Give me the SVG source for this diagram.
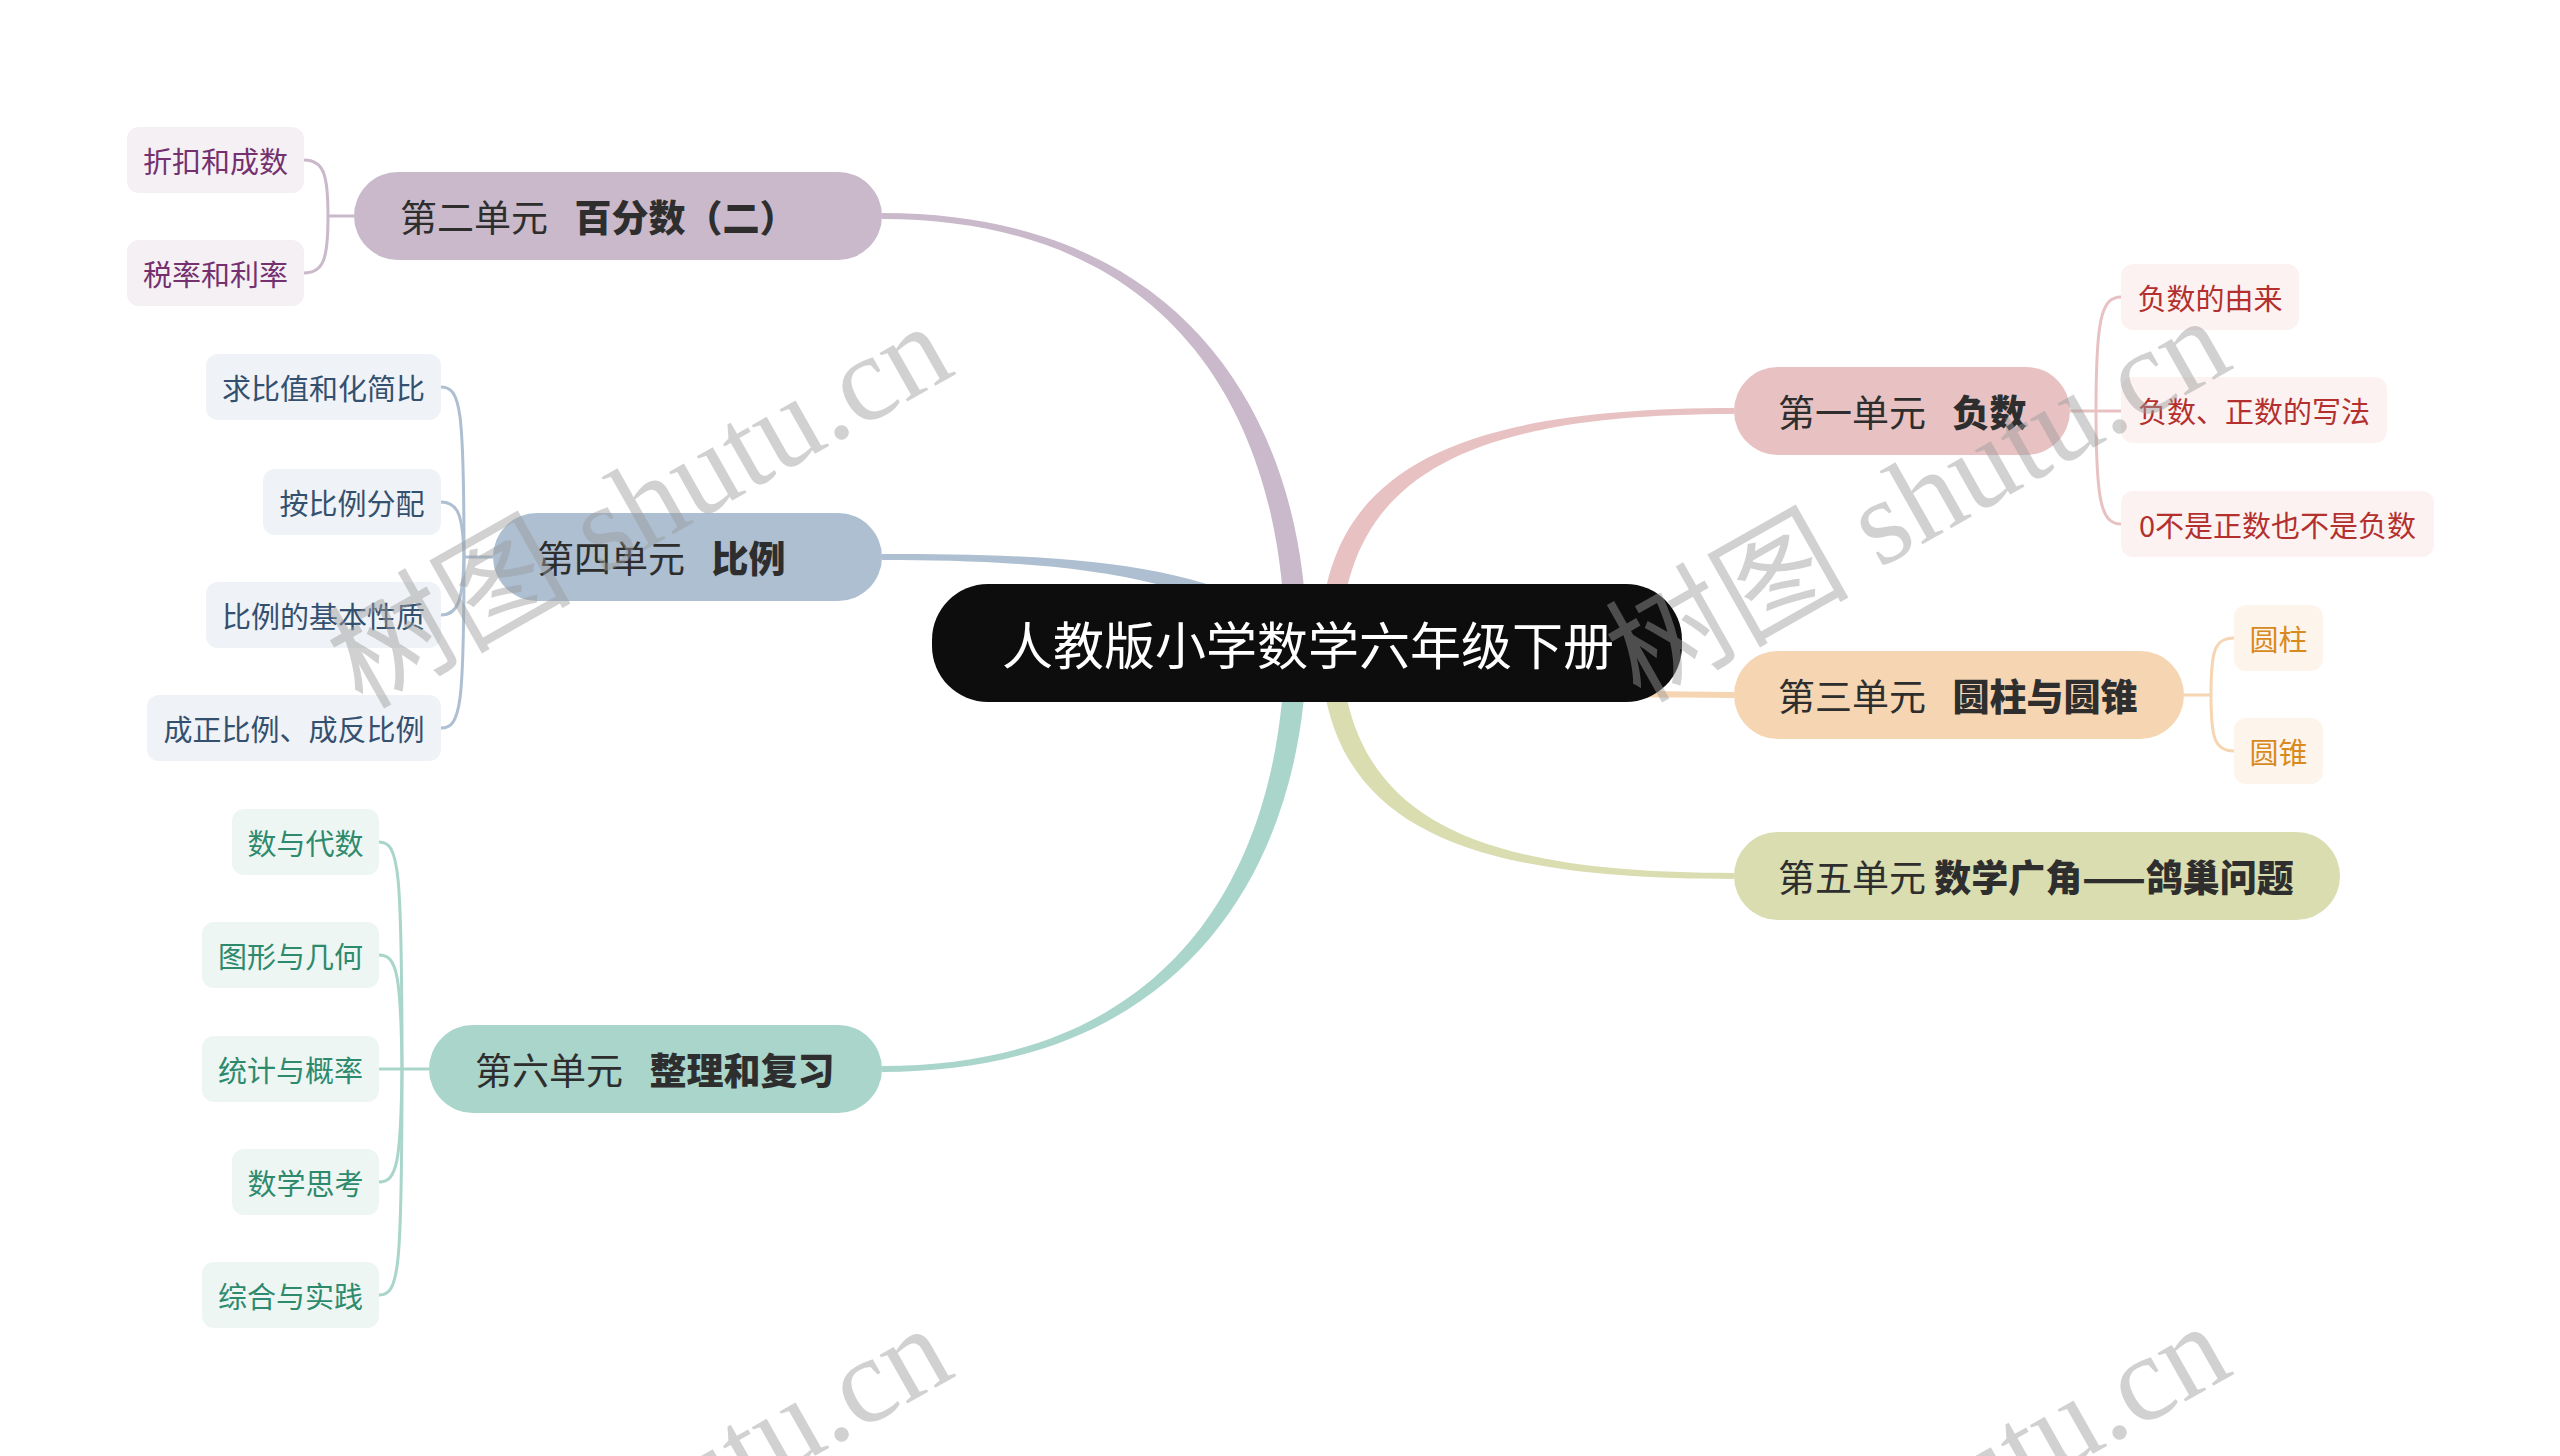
<svg xmlns="http://www.w3.org/2000/svg" width="2560" height="1456" viewBox="0 0 2560 1456">
<style>
text{font-family:"Noto Sans CJK SC","Noto Sans",sans-serif;dominant-baseline:central}
.root-t{font-size:51px;fill:#ffffff}
.main-t{font-size:37px;fill:#2e2e2e}
.b{font-weight:900}
.sub-t{font-size:29px;text-anchor:middle}
.ln{fill:none;stroke-width:3}
.wm{font-family:"Liberation Serif","Noto Sans CJK SC",serif;font-size:122px;fill:#9a9a9a;fill-opacity:0.46;dominant-baseline:auto}
</style>
<rect width="2560" height="1456" fill="#ffffff"/>
<g id="connectors">
  <!-- main tapered connectors -->
  <path fill="#c9b9ca" d="M882,213 C1185,213 1306,420 1307,645 L1285,645 C1284,420 1175,219 882,219 Z"/>
  <path fill="#adbfd1" d="M882,554 C1060,554 1215,560 1305,635 L1295,648 C1200,572 1050,560 882,560 Z"/>
  <path fill="#a9d5cb" d="M882,1066 C1175,1066 1284,866 1285,640 L1307,640 C1306,866 1185,1072 882,1072 Z"/>
  <path fill="#e8c2c2" d="M1734,408 C1455,408 1322,468 1320,645 L1340,645 C1345,476 1465,414 1734,414 Z"/>
  <path fill="#f5d5b2" d="M1734,692 C1600,692 1450,686 1310,653 L1310,667 C1450,696 1600,698 1734,698 Z"/>
  <path fill="#d9ddb0" d="M1734,879 C1455,879 1322,824 1320,640 L1340,640 C1345,816 1465,873 1734,873 Z"/>
  <!-- 第二单元 children -->
  <g stroke="#c9b9ca" class="ln">
    <path d="M354,216 H328"/>
    <path d="M304,160 C324,160 328,175 328,216"/>
    <path d="M304,273 C324,273 328,258 328,216"/>
  </g>
  <!-- 第四单元 children -->
  <g stroke="#adbfd1" class="ln">
    <path d="M493,557 H464"/>
    <path d="M441,387 C461,387 464,410 464,557"/>
    <path d="M441,502 C458,502 463,515 464,557"/>
    <path d="M441,615 C458,615 463,600 464,557"/>
    <path d="M441,728 C461,728 464,705 464,557"/>
  </g>
  <!-- 第六单元 children -->
  <g stroke="#a9d5cb" class="ln">
    <path d="M429,1069 H379"/>
    <path d="M379,842 C399,842 402,866 402,1069"/>
    <path d="M379,955 C397,955 401,975 402,1069"/>
    <path d="M379,1182 C397,1182 401,1162 402,1069"/>
    <path d="M379,1295 C399,1295 402,1272 402,1069"/>
  </g>
  <!-- 第一单元 children -->
  <g stroke="#e8c2c2" class="ln">
    <path d="M2070,411 H2121"/>
    <path d="M2121,297 C2101,297 2096,320 2096,411"/>
    <path d="M2121,524 C2101,524 2096,501 2096,411"/>
  </g>
  <!-- 第三单元 children -->
  <g stroke="#f5d5b2" class="ln">
    <path d="M2184,695 H2211"/>
    <path d="M2234,638 C2214,638 2211,652 2211,695"/>
    <path d="M2234,751 C2214,751 2211,737 2211,695"/>
  </g>
</g>

<g id="root">
  <rect x="932" y="584" width="750" height="118" rx="56" fill="#0d0d0d"/>
  <text class="root-t" x="1308" y="643" text-anchor="middle">人教版小学数学六年级下册</text>
</g>

<g id="unit2">
  <rect x="354" y="172" width="528" height="88" rx="44" fill="#c9b9ca"/>
  <text class="main-t" x="400" y="216" xml:space="preserve">第二单元  <tspan class="b" dx="10">百分数（二）</tspan></text>
</g>
<g id="unit2-a"><rect x="127" y="127" width="177" height="66" rx="12" fill="#f4f0f4"/><text class="sub-t" x="215.5" y="160" fill="#74306f">折扣和成数</text></g>
<g id="unit2-b"><rect x="127" y="240" width="177" height="66" rx="12" fill="#f4f0f4"/><text class="sub-t" x="215.5" y="273" fill="#74306f">税率和利率</text></g>

<g id="unit4">
  <rect x="493" y="513" width="389" height="88" rx="44" fill="#adbfd1"/>
  <text class="main-t" x="537" y="557" xml:space="preserve">第四单元  <tspan class="b" dx="10">比例</tspan></text>
</g>
<g id="unit4-a"><rect x="206" y="354" width="235" height="66" rx="12" fill="#eff2f6"/><text class="sub-t" x="323.5" y="387" fill="#34506f">求比值和化简比</text></g>
<g id="unit4-b"><rect x="263" y="469" width="178" height="66" rx="12" fill="#eff2f6"/><text class="sub-t" x="352" y="502" fill="#34506f">按比例分配</text></g>
<g id="unit4-c"><rect x="206" y="582" width="235" height="66" rx="12" fill="#eff2f6"/><text class="sub-t" x="323.5" y="615" fill="#34506f">比例的基本性质</text></g>
<g id="unit4-d"><rect x="147" y="695" width="294" height="66" rx="12" fill="#eff2f6"/><text class="sub-t" x="294" y="728" fill="#34506f">成正比例、成反比例</text></g>

<g id="unit6">
  <rect x="429" y="1025" width="453" height="88" rx="44" fill="#a9d5cb"/>
  <text class="main-t" x="475" y="1069" xml:space="preserve">第六单元  <tspan class="b" dx="10">整理和复习</tspan></text>
</g>
<g id="unit6-a"><rect x="232" y="809" width="147" height="66" rx="12" fill="#eef6f4"/><text class="sub-t" x="305.5" y="842" fill="#2e8a6c">数与代数</text></g>
<g id="unit6-b"><rect x="202" y="922" width="177" height="66" rx="12" fill="#eef6f4"/><text class="sub-t" x="290.5" y="955" fill="#2e8a6c">图形与几何</text></g>
<g id="unit6-c"><rect x="202" y="1036" width="177" height="66" rx="12" fill="#eef6f4"/><text class="sub-t" x="290.5" y="1069" fill="#2e8a6c">统计与概率</text></g>
<g id="unit6-d"><rect x="232" y="1149" width="147" height="66" rx="12" fill="#eef6f4"/><text class="sub-t" x="305.5" y="1182" fill="#2e8a6c">数学思考</text></g>
<g id="unit6-e"><rect x="202" y="1262" width="177" height="66" rx="12" fill="#eef6f4"/><text class="sub-t" x="290.5" y="1295" fill="#2e8a6c">综合与实践</text></g>

<g id="unit1">
  <rect x="1734" y="367" width="336" height="88" rx="44" fill="#e8c2c2"/>
  <text class="main-t" x="1778" y="411" xml:space="preserve">第一单元  <tspan class="b" dx="10">负数</tspan></text>
</g>
<g id="unit1-a"><rect x="2121" y="264" width="178" height="66" rx="12" fill="#fbf2f1"/><text class="sub-t" x="2210" y="297" fill="#b3302e">负数的由来</text></g>
<g id="unit1-b"><rect x="2121" y="377" width="266" height="66" rx="12" fill="#fbf2f1"/><text class="sub-t" x="2254" y="410" fill="#b3302e">负数、正数的写法</text></g>
<g id="unit1-c"><rect x="2121" y="491" width="313" height="66" rx="12" fill="#fbf2f1"/><text class="sub-t" x="2277.5" y="524" fill="#b3302e">0不是正数也不是负数</text></g>

<g id="unit3">
  <rect x="1734" y="651" width="450" height="88" rx="44" fill="#f5d5b2"/>
  <text class="main-t" x="1778" y="695" xml:space="preserve">第三单元  <tspan class="b" dx="10">圆柱与圆锥</tspan></text>
</g>
<g id="unit3-a"><rect x="2234" y="605" width="89" height="66" rx="12" fill="#fdf5ec"/><text class="sub-t" x="2278.5" y="638" fill="#d98a1e">圆柱</text></g>
<g id="unit3-b"><rect x="2234" y="718" width="89" height="66" rx="12" fill="#fdf5ec"/><text class="sub-t" x="2278.5" y="751" fill="#d98a1e">圆锥</text></g>

<g id="unit5">
  <rect x="1734" y="832" width="606" height="88" rx="44" fill="#d9ddb0"/>
  <text class="main-t" x="1778" y="876" xml:space="preserve">第五单元 <tspan class="b">数学广角——鸽巢问题</tspan></text>
</g>

<g id="watermarks">
  <text class="wm" transform="translate(362,710) rotate(-29.5)">树图 shutu.cn</text>
  <text class="wm" transform="translate(1640,704) rotate(-29.5)">树图 shutu.cn</text>
  <text class="wm" transform="translate(362,1712) rotate(-29.5)">树图 shutu.cn</text>
  <text class="wm" transform="translate(1640,1710) rotate(-29.5)">树图 shutu.cn</text>
</g>
</svg>
